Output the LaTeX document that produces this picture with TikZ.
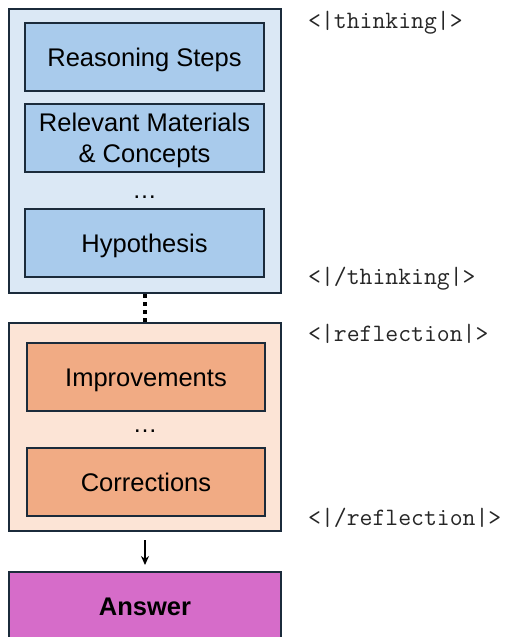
\documentclass[tikz,border=0pt]{standalone}
\usepackage{fontspec}
\setmainfont{Liberation Sans}
\usetikzlibrary{arrows.meta}
\definecolor{bordc}{HTML}{1B2B3B}
\definecolor{blueout}{HTML}{DBE8F5}
\definecolor{bluein}{HTML}{A9CBEC}
\definecolor{orout}{HTML}{FCE4D6}
\definecolor{orin}{HTML}{F1AB84}
\definecolor{ansc}{HTML}{D66CC9}
\tikzset{
  frame/.style={draw=bordc, line width=2pt, minimum width=272pt, inner sep=0pt},
  boxtext/.style={align=center, font=\fontsize{25.5}{31}\selectfont, text height=18.3pt, text depth=0pt},
  bluebox/.style={draw=bordc, line width=2pt, fill=bluein, minimum width=239pt, minimum height=68pt, inner sep=0pt, boxtext},
  orbox/.style={draw=bordc, line width=2pt, fill=orin, minimum width=238pt, minimum height=68pt, inner sep=0pt, boxtext},
  dotsnode/.style={font=\fontsize{24.5}{30}\selectfont, inner sep=0pt, anchor=base},
  tag/.style={font=\ttfamily\fontsize{25}{28}\selectfont, text=black!85, anchor=west, inner sep=0pt},
}
\begin{document}
\begin{tikzpicture}[x=1pt,y=-1pt]
\useasboundingbox (0,0) rectangle (504,637);
\clip (0,0) rectangle (504,637);
\fill[white] (0,0) rectangle (504,637);
% thinking block
\node[frame, fill=blueout, minimum height=284pt] (think) at (145,151) {};
\node[bluebox] (steps) at (144.5,57) {Reasoning Steps};
\node[bluebox, text height=49.3pt, text depth=0pt] (mat) at (144.5,138) {Relevant Materials\\\& Concepts};
\node[dotsnode] (dots1) at (144.5,198) {…};
\node[bluebox] (hyp) at (144.5,243) {Hypothesis};
% reflection block
\node[frame, fill=orout, minimum height=208pt] (refl) at (145,427) {};
\node[orbox] (impr) at (146,377) {Improvements};
\node[dotsnode] (dots2) at (145,432) {…};
\node[orbox] (corr) at (146,482) {Corrections};
% answer
\node[frame, fill=ansc, minimum height=68pt, font=\fontsize{25.5}{30}\selectfont\bfseries, text height=18.3pt, text depth=0pt] (ans) at (145,606) {Answer};
% connectors
\draw[line width=4pt, dash pattern=on 4pt off 4pt, draw=black] (think.south) -- (refl.north);
\draw[line width=1.5pt, -{Stealth[length=9pt,width=8pt]}, shorten <=8pt, shorten >=6pt] (refl.south) -- (ans.north);
% tags
\node[tag] (t1) at (308,23) {<|thinking|>};
\node[tag] (t2) at (308,279) {<|/thinking|>};
\node[tag] (t3) at (308,334) {<|reflection|>};
\node[tag] (t4) at (308,518) {<|/reflection|>};
\end{tikzpicture}
\end{document}
